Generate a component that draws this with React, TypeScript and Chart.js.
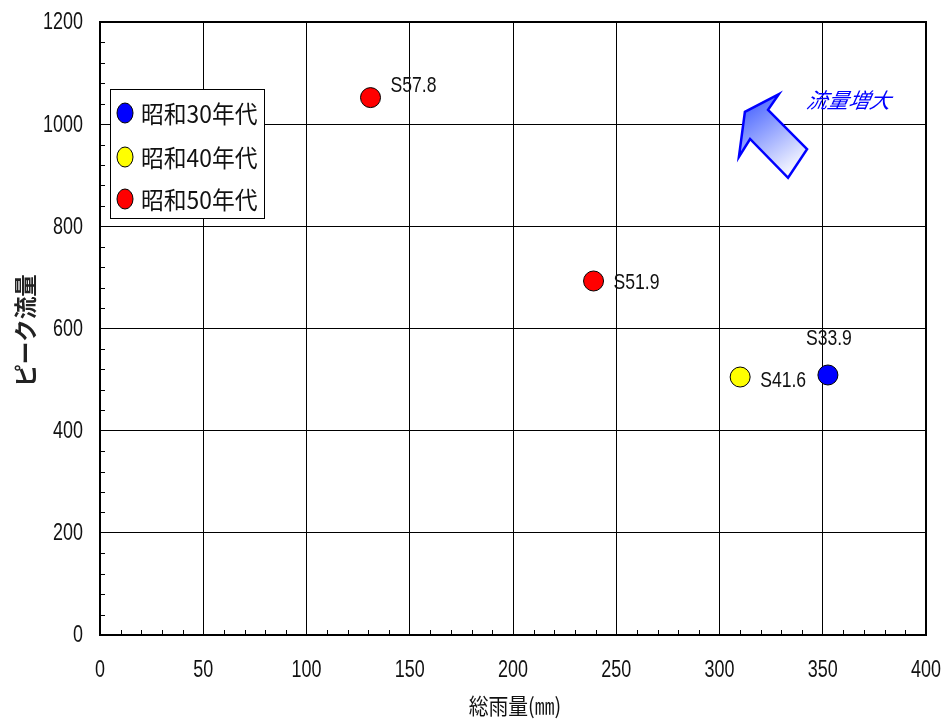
import React, { useEffect, useRef } from "react";
import { Chart, registerables } from "chart.js";

Chart.register(...registerables);

// ---- data ----
const seriesNames = ["昭和30年代", "昭和40年代", "昭和50年代"];
const seriesColors = ["#0000ff", "#ffff00", "#ff0000"];
const s30Rain = [352.5];
const s30Peak = [509];
const s30Labels = ["S33.9"];
const s40Rain = [310];
const s40Peak = [505];
const s40Labels = ["S41.6"];
const s50Rain = [131, 239];
const s50Peak = [1052, 693];
const s50Labels = ["S57.8", "S51.9"];
const xTicks = [0, 50, 100, 150, 200, 250, 300, 350, 400];
const yTicks = [0, 200, 400, 600, 800, 1000, 1200];
const xTitle = "総雨量(㎜)";
const yTitle = "ピーク流量";
const arrowText = "流量増大";
// arrow outline in data units (x: rain, y: peak)
const arrowX = [328.8, 312.3, 309.4, 314.8, 333.2, 342.4, 323.5];
const arrowY = [1059, 1024, 936, 971, 895, 951, 1028];
const arrowTextPos = { x: 342.4, y: 1047 };

// label offsets (pixels) per dataset/point
const labelOffsets = [
  [{ dx: -22, dy: -36 }],
  [{ dx: 20, dy: 4 }],
  [{ dx: 20, dy: -12 }, { dx: 20, dy: 2 }],
];
const allLabels = [s30Labels, s40Labels, s50Labels];

const NUM_FONT = '"Liberation Sans", Arial, sans-serif';
const JP_FONT = '"Noto Sans CJK JP", sans-serif';

const toPts = (xs: number[], ys: number[]) => xs.map((x, i) => ({ x, y: ys[i] }));

function narrowText(ctx: any, text: string, x: number, y: number, align: string, sx: number) {
  const w = ctx.measureText(text).width * sx;
  let x0 = x;
  if (align === "center") x0 = x - w / 2;
  else if (align === "right") x0 = x - w;
  ctx.save();
  ctx.translate(x0, y);
  ctx.scale(sx, 1);
  ctx.textAlign = "left";
  ctx.fillText(text, 0, 0);
  ctx.restore();
}

const decorPlugin = {
  id: "decor",
  beforeDatasetsDraw(chart: any) {
    const { ctx, chartArea: ca, scales } = chart;
    const xs = scales.x, ys = scales.y;
    ctx.save();
    // minor ticks
    ctx.strokeStyle = "#000";
    ctx.lineWidth = 1;
    ctx.beginPath();
    for (let v = 10; v < 400; v += 10) {
      if (v % 50 === 0) continue;
      const px = Math.round(xs.getPixelForValue(v)) + 0.5;
      ctx.moveTo(px, ca.bottom);
      ctx.lineTo(px, ca.bottom - 5);
    }
    for (let v = 40; v < 1200; v += 40) {
      if (v % 200 === 0) continue;
      const py = Math.round(ys.getPixelForValue(v)) + 0.5;
      ctx.moveTo(ca.left, py);
      ctx.lineTo(ca.left + 5, py);
    }
    ctx.stroke();
    // frame
    ctx.lineWidth = 2;
    ctx.strokeRect(ca.left, ca.top, ca.right - ca.left, ca.bottom - ca.top);

    // tick labels
    ctx.fillStyle = "#111";
    ctx.font = "23px " + NUM_FONT;
    ctx.textBaseline = "middle";
    yTicks.forEach(v => {
      narrowText(ctx, String(v), ca.left - 17, ys.getPixelForValue(v) + 1, "right", 0.78);
    });
    xTicks.forEach(v => {
      narrowText(ctx, String(v), xs.getPixelForValue(v), ca.bottom + 36, "center", 0.78);
    });
    // axis titles
    ctx.font = '22px ' + JP_FONT;
    narrowText(ctx, xTitle, (ca.left + ca.right) / 2 + 2, ca.bottom + 71, "center", 0.9);
    ctx.save();
    ctx.translate(25, (ca.top + ca.bottom) / 2 + 2);
    ctx.rotate(-Math.PI / 2);
    ctx.fillStyle = "#222";
    ctx.font = 'bold 23px ' + JP_FONT;
    narrowText(ctx, yTitle, 0, 0, "center", 0.98);
    ctx.restore();

    // arrow
    const pts = arrowX.map((x, i) => [xs.getPixelForValue(x), ys.getPixelForValue(arrowY[i])]);
    const minX = Math.min(...pts.map(p => p[0])), maxX = Math.max(...pts.map(p => p[0]));
    const minY = Math.min(...pts.map(p => p[1])), maxY = Math.max(...pts.map(p => p[1]));
    const g = ctx.createLinearGradient(minX + 5, minY + 5, maxX - 10, maxY - 5);
    g.addColorStop(0, "#3f5cff");
    g.addColorStop(1, "#ffffff");
    ctx.beginPath();
    pts.forEach((p, i) => (i ? ctx.lineTo(p[0], p[1]) : ctx.moveTo(p[0], p[1])));
    ctx.closePath();
    ctx.fillStyle = g;
    ctx.fill();
    ctx.strokeStyle = "#0000ff";
    ctx.lineWidth = 2.5;
    ctx.lineJoin = "miter";
    ctx.stroke();
    // arrow text
    ctx.fillStyle = "#0000ff";
    ctx.font = 'italic 21px ' + JP_FONT;
    ctx.textAlign = "left";
    ctx.textBaseline = "middle";
    ctx.save();
    const tx = xs.getPixelForValue(arrowTextPos.x), ty = ys.getPixelForValue(arrowTextPos.y);
    ctx.translate(tx, ty);
    ctx.transform(1, 0, -0.2, 1, 0, 0);
    ctx.fillText(arrowText, 0, 0);
    ctx.restore();
    ctx.restore();
  },
  afterDatasetsDraw(chart: any) {
    const { ctx, chartArea: ca } = chart;
    ctx.save();
    // point labels
    ctx.fillStyle = "#111";
    ctx.font = "22px " + NUM_FONT;
    ctx.textBaseline = "middle";
    chart.data.datasets.forEach((ds: any, di: number) => {
      const meta = chart.getDatasetMeta(di);
      meta.data.forEach((el: any, pi: number) => {
        const off = labelOffsets[di][pi];
        narrowText(ctx, allLabels[di][pi], el.x + off.dx, el.y + off.dy, "left", 0.8);
      });
    });
    // legend
    const lx = ca.left + 10, ly = ca.top + 67, lw = 154, lh = 129;
    ctx.fillStyle = "#fff";
    ctx.fillRect(lx, ly, lw, lh);
    ctx.strokeStyle = "#000";
    ctx.lineWidth = 1;
    ctx.strokeRect(lx + 0.5, ly + 0.5, lw, lh);
    const rowY = [24, 68, 110];
    seriesNames.forEach((name, i) => {
      const cy = ly + rowY[i];
      ctx.beginPath();
      ctx.ellipse(lx + 15, cy, 8, 10, 0, 0, Math.PI * 2);
      ctx.fillStyle = seriesColors[i];
      ctx.fill();
      ctx.strokeStyle = "#000";
      ctx.lineWidth = 1;
      ctx.stroke();
      ctx.fillStyle = "#111";
      ctx.font = '24px ' + JP_FONT;
      ctx.textBaseline = "middle";
      narrowText(ctx, name, lx + 31, cy + 1, "left", 0.95);
    });
    ctx.restore();
  },
};

export default function App() {
  const ref = useRef<HTMLCanvasElement | null>(null);
  useEffect(() => {
    if (!ref.current) return;
    const mk = (i: number, xs: number[], ys: number[]) => ({
      label: seriesNames[i],
      data: toPts(xs, ys),
      backgroundColor: seriesColors[i],
      borderColor: "#000",
      borderWidth: 1,
      pointRadius: 10,
      pointHoverRadius: 10,
    });
    const chart = new Chart(ref.current, {
      type: "scatter",
      data: {
        datasets: [
          mk(0, s30Rain, s30Peak),
          mk(1, s40Rain, s40Peak),
          mk(2, s50Rain, s50Peak),
        ],
      },
      options: {
        animation: false,
        responsive: false,
        devicePixelRatio: 1,
        layout: { padding: { top: 22, right: 21, left: 0, bottom: 0 } },
        plugins: { legend: { display: false }, tooltip: { enabled: false } },
        scales: {
          x: {
            type: "linear",
            min: 0,
            max: 400,
            afterBuildTicks: (s: any) => { s.ticks = xTicks.map(v => ({ value: v })); },
            ticks: { display: false },
            grid: { color: "#000", lineWidth: 1, drawTicks: false },
            border: { display: true, color: "#000", width: 2 },
            afterFit: (s: any) => { s.height = 85; },
          },
          y: {
            type: "linear",
            min: 0,
            max: 1200,
            afterBuildTicks: (s: any) => { s.ticks = yTicks.map(v => ({ value: v })); },
            ticks: { display: false },
            grid: { color: "#000", lineWidth: 1, drawTicks: false },
            border: { display: true, color: "#000", width: 2 },
            afterFit: (s: any) => { s.width = 100; },
          },
        },
      },
      plugins: [decorPlugin],
    } as any);
    return () => chart.destroy();
  }, []);
  return (
    <div style={{ position: "absolute", left: 0, top: 0, width: 947, height: 720, background: "#fff" }}>
      <canvas ref={ref} width={947} height={720} style={{ display: "block", width: 947, height: 720 }} />
    </div>
  );
}
